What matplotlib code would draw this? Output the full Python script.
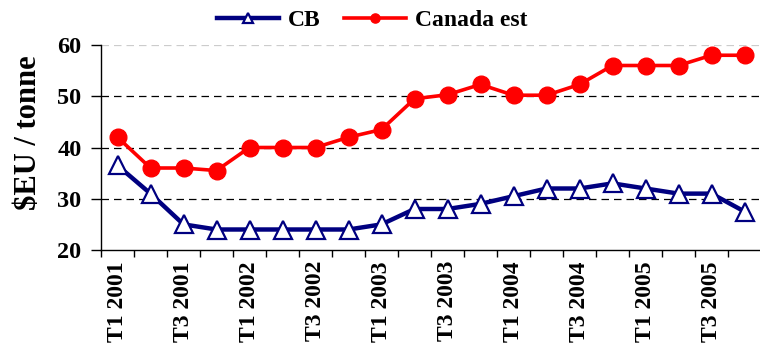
import matplotlib.pyplot as plt
import numpy as np

plt.rcParams['font.family'] = ['Liberation Serif', 'DejaVu Serif']
plt.rcParams['font.weight'] = 'bold'

# trimestres T1 2001 .. T4 2005
quarters = ['T%d %d' % (q, y) for y in range(2001, 2006) for q in range(1, 5)]
cb = [36.5, 31, 25, 24, 24, 24, 24, 24, 25, 28,
      28, 29, 30.5, 32, 32, 33, 32, 31, 31, 27.5]
canada_est = [42, 36, 36, 35.5, 40, 40, 40, 42, 43.5, 49.5,
              50.3, 52.3, 50.2, 50.2, 52.3, 56, 56, 56, 58, 58]
y_ticks = [20, 30, 40, 50, 60]

fig = plt.figure(figsize=(7.6, 3.52), dpi=100)
ax = fig.add_axes([101 / 760, 102 / 352, 660 / 760, 205 / 352])

x = np.arange(len(quarters))
ax.plot(x, cb, color='#000080', lw=3.2, marker='^', ms=12.5,
        mfc='white', mec='#000080', mew=1.6, label='CB', zorder=3)
ax.plot(x, canada_est, color='#ff0000', lw=2.6, marker='o', ms=12,
        mfc='#ff0000', mec='#ff0000', label='Canada est', zorder=4)

ax.set_xlim(-0.5, len(quarters) - 0.5)
ax.set_ylim(20, 60)
ax.set_yticks(y_ticks)
ax.tick_params(axis='y', direction='out', length=7, width=1, labelsize=17.5, pad=7)
for t in ax.get_yticklabels():
    t.set_fontweight('bold')

# grille pointillée
for v in y_ticks[1:]:
    ax.axhline(v, color='black' if v < 60 else '#cccccc', lw=0.9,
               ls=(0, (6, 4)), zorder=1)

# graduations entre les trimestres, étiquettes un sur deux
ax.set_xticks(np.arange(len(quarters) + 1) - 0.5)
ax.set_xticklabels([])
ax.tick_params(axis='x', which='major', direction='out', length=5, width=1)
ax.set_xticks(x[::2], minor=True)
ax.set_xticklabels(quarters[::2], minor=True, rotation=90, fontsize=17,
                   fontweight='bold')
ax.tick_params(axis='x', which='minor', length=0, pad=8)

for s in ['top', 'right']:
    ax.spines[s].set_visible(False)
ax.spines['left'].set_linewidth(1)
ax.spines['bottom'].set_linewidth(1)

ax.set_ylabel('$EU / tonne', fontsize=22, fontweight='bold')
ax.yaxis.set_label_coords(-0.088, 0.57)

fig.legend(loc='center', bbox_to_anchor=(0.49, 0.943), ncol=2, frameon=False,
           prop={'size': 17, 'weight': 'bold'}, handlelength=2.6,
           columnspacing=1.0, handletextpad=0.4, markerscale=0.55)

fig.savefig('out.png', dpi=100)
